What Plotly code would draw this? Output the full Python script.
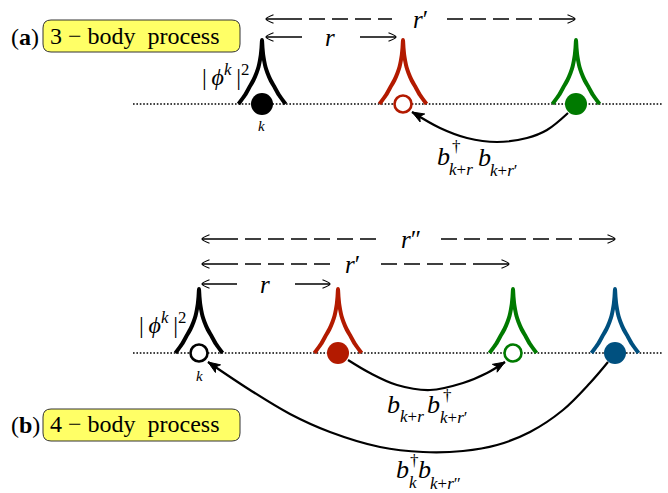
import plotly.graph_objects as go

W, H = 668, 493

# ---------------- data (diagram coordinates, px) ----------------
# panel (a): 3-body process
a_sites_x = [262, 403, 576]
a_site_colors = ["#000000", "#b31a00", "#007a00"]
a_site_filled = [True, False, True]
a_base_y = 104

# panel (b): 4-body process
b_sites_x = [199, 338, 513, 615]
b_site_colors = ["#000000", "#b31a00", "#007a00", "#00507f"]
b_site_filled = [False, True, False, True]
b_base_y = 353

chain_x = [133, 662]

# localized peak |phi|^2 : half-width vs height above the chain
peak_h = [64, 56, 49, 43, 37, 31, 24, 17, 9, 0]
peak_dx = [0, 0.5, 1.2, 2.2, 3.5, 5.5, 8.5, 12.5, 17, 23.5]

# distance arrows: y, x_start, x_end, label, label_x, gap_left, gap_right, dashed
dist_y = [19, 37, 239, 264, 284]
dist_x0 = [266, 266, 202, 202, 202]
dist_x1 = [575, 396, 615, 509, 330]
dist_label = ["<i>r</i>\u2032", "<i>r</i>", "<i>r</i>\u2033", "<i>r</i>\u2032", "<i>r</i>"]
dist_label_x = [420, 330, 411, 352, 265]
dist_gap_l = [392, 302, 380, 330, 237]
dist_gap_r = [443, 360, 438, 378, 295]
dist_dashed = [True, False, True, True, False]

# hopping arcs (points along the curve, last point = arrow tip)
hop_a_x = [568, 547, 527, 497, 467, 440, 412]
hop_a_y = [113, 130, 138, 142, 138, 128, 112]
hop_b1_x = [348, 370, 397, 430, 463, 487, 505]
hop_b1_y = [360, 373, 385, 390, 383, 373, 362]
hop_b2_x = [608, 590, 563, 530, 497, 463, 423, 380, 330, 290, 250, 208]
hop_b2_y = [362, 383, 410, 432, 445, 451, 452, 447, 432, 414, 390, 362]

SERIF = '"Liberation Serif", "DejaVu Serif", "Times New Roman", serif'

fig = go.Figure()

def chain(y):
    fig.add_trace(go.Scatter(x=chain_x, y=[y, y], mode="lines",
                             line=dict(color="black", width=1.6, dash="1.6px,1.8px"),
                             hoverinfo="skip", showlegend=False))

def peak(cx, base, color):
    xs = [cx - d for d in peak_dx[::-1]] + [cx + d for d in peak_dx[1:]]
    ys = [base - h for h in peak_h[::-1]] + [base - h for h in peak_h[1:]]
    fig.add_trace(go.Scatter(x=xs, y=ys, mode="lines",
                             line=dict(color=color, width=4.0, shape="spline", smoothing=0.5),
                             hoverinfo="skip", showlegend=False))

def site(cx, base, color, filled):
    if filled:
        m = dict(size=22, color=color, line=dict(width=0))
    else:
        m = dict(size=17, color="white", line=dict(width=2.6, color=color))
    fig.add_trace(go.Scatter(x=[cx], y=[base], mode="markers", marker=m,
                             hoverinfo="skip", showlegend=False))

for y, xs, cols, fl in [(a_base_y, a_sites_x, a_site_colors, a_site_filled),
                        (b_base_y, b_sites_x, b_site_colors, b_site_filled)]:
    chain(y)
    for cx, c in zip(xs, cols):
        peak(cx, y, c)
    for cx, c, f in zip(xs, cols, fl):
        site(cx, y, c, f)

# distance arrows
def barb(xt, y, direction):
    L, w = 7.5, 4.2
    fig.add_trace(go.Scatter(x=[xt - direction * L, xt, xt - direction * L],
                             y=[y - w, y, y + w], mode="lines",
                             line=dict(color="black", width=1.2, shape="spline"),
                             hoverinfo="skip", showlegend=False))

dash_pat = "36px,7px" + ",16px,7px" * 20
for y, x0, x1, lab, lx, gl, gr, dd in zip(dist_y, dist_x0, dist_x1, dist_label,
                                            dist_label_x, dist_gap_l, dist_gap_r, dist_dashed):
    style = dash_pat if dd else "solid"
    fig.add_trace(go.Scatter(x=[x0, gl], y=[y, y], mode="lines",
                             line=dict(color="black", width=1.3, dash=style),
                             hoverinfo="skip", showlegend=False))
    fig.add_trace(go.Scatter(x=[x1, gr], y=[y, y], mode="lines",
                             line=dict(color="black", width=1.3, dash=style),
                             hoverinfo="skip", showlegend=False))
    barb(x0, y, -1)
    barb(x1, y, 1)
    fig.add_annotation(x=lx, y=y, text=lab, showarrow=False, xanchor="center", yanchor="middle",
                       font=dict(family=SERIF, size=25, color="black"))

# hopping arcs
def arc(xs, ys):
    fig.add_trace(go.Scatter(x=xs, y=ys, mode="lines",
                             line=dict(color="black", width=2.2, shape="spline", smoothing=1.0),
                             hoverinfo="skip", showlegend=False))
    tx, ty = xs[-1], ys[-1]
    dx, dy = tx - xs[-2], ty - ys[-2]
    n = (dx * dx + dy * dy) ** 0.5
    ux, uy = dx / n, dy / n
    px, py = -uy, ux
    L, Wd = 12.0, 4.6
    pts = [(tx, ty),
           (tx - L * ux + Wd * px, ty - L * uy + Wd * py),
           (tx - 0.75 * L * ux, ty - 0.75 * L * uy),
           (tx - L * ux - Wd * px, ty - L * uy - Wd * py),
           (tx, ty)]
    fig.add_trace(go.Scatter(x=[p[0] for p in pts], y=[p[1] for p in pts], mode="lines",
                             fill="toself", fillcolor="black", line=dict(color="black", width=1),
                             hoverinfo="skip", showlegend=False))

arc(hop_a_x, hop_a_y)
arc(hop_b1_x, hop_b1_y)
arc(hop_b2_x, hop_b2_y)

def txt(x, y, s, size, anchor="left"):
    fig.add_annotation(x=x, y=y, text=s, showarrow=False, xanchor=anchor, yanchor="middle",
                       font=dict(family=SERIF, size=size, color="black"))

# panel labels with rounded yellow boxes
def rbox(x0, y0, x1, y1, r=8):
    path = (f"M{x0+r},{y0} L{x1-r},{y0} Q{x1},{y0} {x1},{y0+r} L{x1},{y1-r} "
            f"Q{x1},{y1} {x1-r},{y1} L{x0+r},{y1} Q{x0},{y1} {x0},{y1-r} "
            f"L{x0},{y0+r} Q{x0},{y0} {x0+r},{y0} Z")
    fig.add_shape(type="path", path=path, xref="x", yref="y",
                  fillcolor="#ffff66", line=dict(color="#333333", width=1), layer="below")

rbox(43, 20, 240, 52)
txt(9, 37, "(<b>a</b>)", 24)
txt(48, 36, "3 \u2212 body\u2002process", 24)
rbox(43, 409, 240, 441)
txt(9, 425, "(<b>b</b>)", 24)
txt(48, 424, "4 \u2212 body\u2002process", 24)

# |phi^k|^2 labels
phi_lab = "|\u2009<i>\u03d5</i><sup><i>k</i></sup>\u2009|<sup>2</sup>"
txt(200, 75, phi_lab, 24)
txt(137, 323, phi_lab, 24)
txt(261, 126, "<i>k</i>", 15, "center")
txt(199, 376, "<i>k</i>", 15, "center")

# operators
B, S = 26, 17
# (a) b^dag_{k+r} b_{k+r'}
txt(435, 156, "<i>b</i>", B)
txt(450, 146, "\u2020", S)
txt(447, 169, "<i>k</i>+<i>r</i>", S)
txt(476, 157, "<i>b</i>", B)
txt(488, 170, "<i>k</i>+<i>r</i>\u2032", S)
# (b) b_{k+r} b^dag_{k+r'}
txt(385, 404, "<i>b</i>", B)
txt(398, 416, "<i>k</i>+<i>r</i>", S)
txt(425, 404, "<i>b</i>", B)
txt(441, 395, "\u2020", S)
txt(438, 417, "<i>k</i>+<i>r</i>\u2032", S)
# (b) b^dag_k b_{k+r''}
txt(394, 469, "<i>b</i>", B)
txt(408, 460, "\u2020", S)
txt(407, 482, "<i>k</i>", S)
txt(416, 469, "<i>b</i>", B)
txt(428, 483, "<i>k</i>+<i>r</i>\u2033", S)

fig.update_layout(
    width=W, height=H, margin=dict(l=0, r=0, t=0, b=0),
    paper_bgcolor="white", plot_bgcolor="white", showlegend=False,
    xaxis=dict(range=[0, W], visible=False, fixedrange=True),
    yaxis=dict(range=[H, 0], visible=False, fixedrange=True),
)
fig.write_html("out.html", config={"displayModeBar": False},
               post_script="document.body.style.margin='0';document.body.style.padding='0';")
